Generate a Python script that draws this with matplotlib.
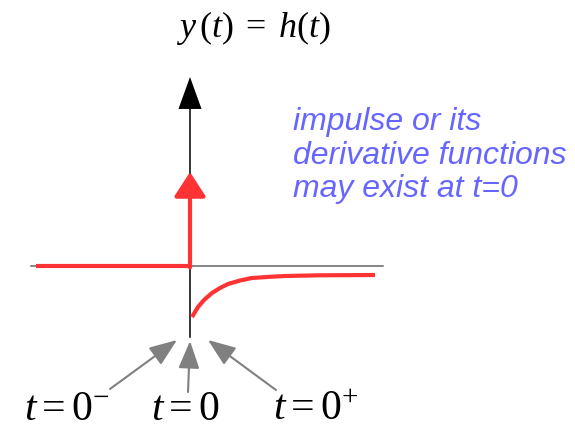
import numpy as np
import matplotlib
matplotlib.use("Agg")
import matplotlib.pyplot as plt

plt.rcParams['mathtext.fontset'] = 'custom'
plt.rcParams['mathtext.rm'] = 'Liberation Serif'
plt.rcParams['mathtext.it'] = 'Liberation Serif:italic'

# diagram units: t=0 at the vertical axis, y=0 on the horizontal axis
t_axis = [-159, 193]
y_axis = [-71, 189]
step_t = [-154, 0]
impulse_top = 94

# decaying part after t=0+
curve_t = [2, 5, 8, 14, 22, 30, 38, 50, 62, 80, 95, 130, 185]
curve_y = [-51, -46, -41, -34, -27, -22, -18, -14.5, -12, -10.8, -10, -9.3, -9]

labels = [r'$t=0^{-}$', r'$t=0$', r'$t=0^{+}$']
label_x = [-123, -5, 126]
arrow_tail = [(-80, -123), (-2, -126), (86, -124)]
arrow_tip = [(-13, -74), (0, -75), (18, -74)]

note_lines = ['impulse or its', 'derivative functions', 'may exist at t=0']
note_base = [136, 102, 69]

red = '#ff3333'
gray = '#808080'
blue = '#6666ff'

fig = plt.figure(figsize=(5.75, 4.3), dpi=100)
ax = fig.add_axes([0, 0, 1, 1])
ax.set_xlim(-190, 385)
ax.set_ylim(-164, 266)
ax.axis('off')

# axes
ax.plot(t_axis, [0, 0], color='#666666', lw=1.1, zorder=1)
ax.plot([0, 0], [y_axis[0], y_axis[1] - 25], color='black', lw=1.1, zorder=1)
ax.annotate('', xy=(0, y_axis[1]), xytext=(0, y_axis[1] - 26),
            arrowprops=dict(arrowstyle='-|>,head_length=23,head_width=8.3',
                            mutation_scale=1, color='black', lw=0,
                            shrinkA=0, shrinkB=0))

# h(t)
ax.plot(step_t, [0, 0], color=red, lw=3, solid_capstyle='butt', zorder=2)
ax.annotate('', xy=(0, impulse_top), xytext=(0, -1.5),
            arrowprops=dict(arrowstyle='-|>,head_length=15,head_width=9.7',
                            mutation_scale=1, color=red, lw=3,
                            shrinkA=0, shrinkB=0), zorder=3)
ax.plot(curve_t, curve_y, color=red, lw=3, solid_capstyle='butt',
        solid_joinstyle='round', zorder=2)

ax.text(64, 229, r'$y\,(t)\;=\;h(t)$', fontsize=26,
        ha='center', va='baseline')

for line, yb in zip(note_lines, note_base):
    ax.text(103, yb, line, fontsize=23, family='Liberation Sans',
            style='italic', color=blue, ha='left', va='baseline')

for lab, lx, tail, tip in zip(labels, label_x, arrow_tail, arrow_tip):
    ax.text(lx, -154, lab, fontsize=30, ha='center', va='baseline')
    ax.annotate('', xy=tip, xytext=tail,
                arrowprops=dict(arrowstyle='-|>,head_length=17,head_width=6.5',
                                mutation_scale=1, color=gray, lw=1.5,
                                shrinkA=0, shrinkB=0))

fig.savefig('out.png', dpi=100)
